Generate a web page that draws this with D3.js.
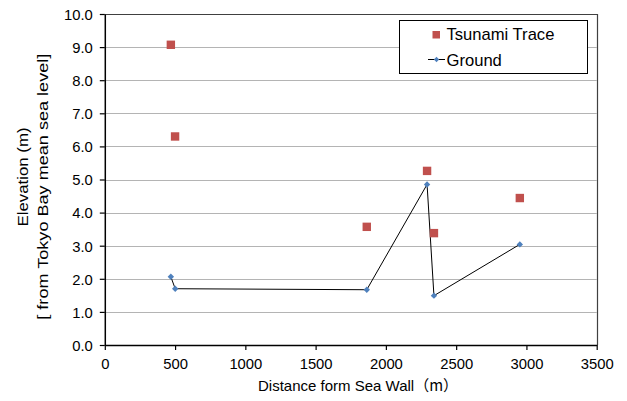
<!DOCTYPE html>
<html><head><meta charset="utf-8">
<script src="https://cdn.jsdelivr.net/npm/d3@7"></script>
<style>body{margin:0;background:#fff}svg{display:block}text{font-family:"Liberation Sans",Arial,sans-serif;fill:#000}</style>
</head><body>
<script>
const traceX = [470, 500, 1864, 2293, 2342, 2953];
const traceY = [9.07, 6.30, 3.57, 5.26, 3.38, 4.44];
const groundX = [470, 501, 1864, 2293, 2342, 2953];
const groundY = [2.06, 1.70, 1.67, 4.85, 1.49, 3.04];
const xTicks = [0, 500, 1000, 1500, 2000, 2500, 3000, 3500];
const yTicks = [0, 1, 2, 3, 4, 5, 6, 7, 8, 9, 10];
const seriesNames = ["Tsunami Trace", "Ground"];

const W = 627, H = 401;
const svg = d3.select("body").append("svg").attr("width", W).attr("height", H);
const x = d3.scaleLinear().domain([0, 3500]).range([104.8, 596.7]);
const y = d3.scaleLinear().domain([0, 10]).range([345, 14]);

// gridlines
svg.append("g").selectAll("line").data(yTicks.filter(d => d > 0)).join("line")
  .attr("x1", x(0)).attr("x2", x(3500)).attr("y1", d => Math.round(y(d)) + 0.5).attr("y2", d => Math.round(y(d)) + 0.5)
  .attr("stroke", "#b4b4b4").attr("stroke-width", 1.2);

// border top/right
svg.append("path").attr("d", `M${x(0)},${Math.round(y(10))+0.5}H${Math.round(x(3500))+0.5}V${y(0)}`)
  .attr("fill", "none").attr("stroke", "#404040").attr("stroke-width", 1.2);

// axes
const xa = svg.append("g").attr("transform", `translate(0,${y(0)})`)
  .call(d3.axisBottom(x).tickValues(xTicks).tickSize(5).tickSizeOuter(0).tickFormat(d3.format("d")));
const ya = svg.append("g").attr("transform", `translate(${x(0)},0)`)
  .call(d3.axisLeft(y).tickValues(yTicks).tickSize(5).tickSizeOuter(0).tickFormat(d3.format(".1f")));
[xa, ya].forEach(a => {
  a.select(".domain").attr("stroke", "#000").attr("stroke-width", 1.5);
  a.selectAll(".tick line").attr("stroke", "#000").attr("stroke-width", 1.2);
  a.selectAll("text").attr("font-size", 14.8).attr("font-family", "Liberation Sans, Arial, sans-serif").attr("fill", "#000");
});
xa.selectAll("text").attr("dy", "0").attr("y", 24);
ya.selectAll("text").attr("x", -12).attr("dy", "0.36em");

// ground line
const line = d3.line().x(d => x(d[0])).y(d => y(d[1]));
const gpts = groundX.map((v, i) => [v, groundY[i]]);
svg.append("path").datum(gpts).attr("d", line).attr("fill", "none").attr("stroke", "#000").attr("stroke-width", 1);
svg.append("g").selectAll("path").data(gpts).join("path")
  .attr("d", d3.symbol(d3.symbolDiamond2, 26))
  .attr("transform", d => `translate(${x(d[0])},${y(d[1])})`).attr("fill", "#4f81bd");

// trace squares
svg.append("g").selectAll("rect").data(traceX.map((v, i) => [v, traceY[i]])).join("rect")
  .attr("x", d => x(d[0]) - 4.2).attr("y", d => y(d[1]) - 4.2).attr("width", 8.4).attr("height", 8.4)
  .attr("fill", "#c0504d");

// legend
const lg = svg.append("g");
lg.append("rect").attr("x", 399.5).attr("y", 20.5).attr("width", 188).attr("height", 53)
  .attr("fill", "#fff").attr("stroke", "#000").attr("stroke-width", 1);
lg.append("rect").attr("x", 432.5).attr("y", 31).attr("width", 7.5).attr("height", 7.5).attr("fill", "#c0504d");
lg.append("text").attr("x", 446.5).attr("y", 39.5).attr("font-size", 16.6).text(seriesNames[0]);
lg.append("line").attr("x1", 428).attr("x2", 445).attr("y1", 59.5).attr("y2", 59.5).attr("stroke", "#000");
lg.append("path").attr("d", d3.symbol(d3.symbolDiamond2, 18)).attr("transform", "translate(436.5,59.5)").attr("fill", "#4f81bd");
lg.append("text").attr("x", 446.5).attr("y", 65.5).attr("font-size", 16.6).text(seriesNames[1]);

// axis titles
svg.append("text").attr("x", 258).attr("y", 390.5).attr("font-size", 15)
  .html('Distance form Sea Wall<tspan font-family="Noto Sans CJK JP" font-size="15">（m）</tspan>');
svg.append("text").attr("transform", "translate(27.5,177) rotate(-90)").attr("text-anchor", "middle").attr("font-size", 15)
  .attr("textLength", 99).attr("lengthAdjust", "spacingAndGlyphs").text("Elevation (m)");
svg.append("text").attr("transform", "translate(47.5,186.7) rotate(-90)").attr("text-anchor", "middle").attr("font-size", 15)
  .attr("textLength", 266).attr("lengthAdjust", "spacingAndGlyphs").text("[ from Tokyo Bay mean sea level]");
</script>
</body></html>
